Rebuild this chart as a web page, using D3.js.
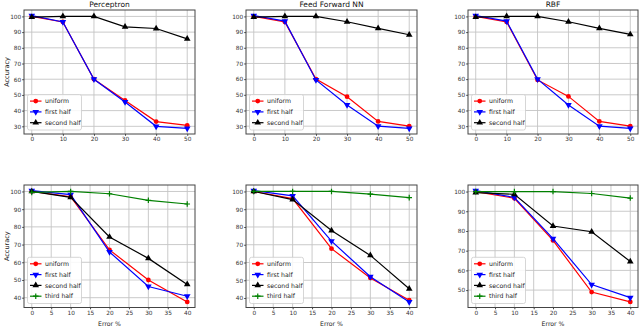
<!DOCTYPE html>
<html>
<head>
<meta charset="utf-8">
<script src="https://cdn.jsdelivr.net/npm/d3@7"></script>
<style>
  body { margin: 0; background: #fff; }
  svg { display: block; font-family: "DejaVu Sans", sans-serif; }
</style>
</head>
<body>
<svg id="chart" width="640" height="328"></svg>
<script>
// error levels on the x axis
const topErr = [0, 10, 20, 30, 40, 50];
const botErr = [0, 10, 20, 30, 40];

// top row
const percUniform = [100, 96.5, 60, 46.5, 33, 30.6];
const percFirst   = [100.5, 96.5, 60, 45.5, 30, 28.7];
const percSecond  = [99.5, 100, 100, 93.3, 92.3, 85.7];
const ffUniform   = [100, 96.5, 60, 48.8, 33, 30];
const ffFirst     = [100.5, 97, 59.5, 43.5, 30, 28.6];
const ffSecond    = [99.5, 100, 100, 96.6, 92.4, 88.3];
const rbfUniform  = [100, 96.5, 59.5, 49, 33, 30];
const rbfFirst    = [100.5, 97, 60, 43.5, 30, 28.6];
const rbfSecond   = [99.5, 100, 100, 96.6, 92.4, 88.5];

// bottom row
const b1Uniform = [100, 97, 67, 50, 37.6];
const b1First   = [100.5, 98.2, 65.8, 46.3, 40.8];
const b1Second  = [100, 96.7, 74.3, 62.2, 47.5];
const b1Third   = [99.5, 100, 98.7, 95, 92.9];
const b2Uniform = [100, 96, 67.8, 51.3, 38.8];
const b2First   = [100.5, 97.5, 72, 52, 37.8];
const b2Second  = [100, 95.4, 78, 64, 45.2];
const b2Third   = [100, 100, 100, 98.5, 96.5];
const b3Uniform = [100, 96.6, 75.2, 49, 44];
const b3First   = [100.5, 97, 76.1, 52.8, 46.2];
const b3Second  = [99.5, 98.6, 82.5, 79.6, 64.5];
const b3Third   = [100, 100, 100, 99, 96.7];

const titles = ["Perceptron", "Feed Forward NN", "RBF"];
const seriesNames = ["uniform", "first half", "second half", "third half"];
const seriesColors = ["#ff0000", "#0000ff", "#000000", "#008000"];
const topXTicks = [0, 10, 20, 30, 40, 50];
const botXTicks = [0, 5, 10, 15, 20, 25, 30, 35, 40];
const yTicks = [30, 40, 50, 60, 70, 80, 90, 100];

const svg = d3.select("#chart");

const cols = [[24, 195], [246, 417], [468, 638]];
const rows = [[10, 134], [185, 307.5]];

const panels = [
  { col: 0, row: 0, xs: topErr, ys: [percUniform, percFirst, percSecond], title: titles[0], xt: topXTicks },
  { col: 1, row: 0, xs: topErr, ys: [ffUniform, ffFirst, ffSecond], title: titles[1], xt: topXTicks },
  { col: 2, row: 0, xs: topErr, ys: [rbfUniform, rbfFirst, rbfSecond], title: titles[2], xt: topXTicks },
  { col: 0, row: 1, xs: botErr, ys: [b1Uniform, b1First, b1Second, b1Third], xt: botXTicks },
  { col: 1, row: 1, xs: botErr, ys: [b2Uniform, b2First, b2Second, b2Third], xt: botXTicks },
  { col: 2, row: 1, xs: botErr, ys: [b3Uniform, b3First, b3Second, b3Third], xt: botXTicks },
];

// matplotlib style 5% margins
function padded(ext) {
  const m = (ext[1] - ext[0]) * 0.05;
  return [ext[0] - m, ext[1] + m];
}

function marker(g, i, cx, cy, color) {
  if (i === 0) {
    g.append("circle").attr("cx", cx).attr("cy", cy).attr("r", 2.4).attr("fill", color);
  } else if (i === 1 || i === 2) {
    g.append("path")
      .attr("d", d3.symbol(d3.symbolTriangle, 19)())
      .attr("transform", `translate(${cx},${cy}) rotate(${i === 1 ? 180 : 0})`)
      .attr("fill", color);
  } else {
    g.append("path")
      .attr("d", "M-2.8,0H2.8M0,-2.8V2.8")
      .attr("transform", `translate(${cx},${cy})`)
      .attr("stroke", color).attr("stroke-width", 1.2).attr("fill", "none");
  }
}

panels.forEach(p => {
  const [xl, xr] = cols[p.col];
  const [yt, yb] = rows[p.row];
  const x = d3.scaleLinear().domain(padded(d3.extent(p.xs))).range([xl, xr]);
  const y = d3.scaleLinear().domain(padded(d3.extent(p.ys.flat()))).range([yb, yt]);
  const yt2 = yTicks.filter(v => v >= y.domain()[0] && v <= y.domain()[1]);
  const g = svg.append("g");

  // grid
  g.selectAll(".gx").data(p.xt).enter().append("line")
    .attr("x1", d => x(d)).attr("x2", d => x(d)).attr("y1", yt).attr("y2", yb)
    .attr("stroke", "#c4c4c4").attr("stroke-width", 0.9);
  g.selectAll(".gy").data(yt2).enter().append("line")
    .attr("x1", xl).attr("x2", xr).attr("y1", d => y(d)).attr("y2", d => y(d))
    .attr("stroke", "#c4c4c4").attr("stroke-width", 0.9);

  // axes
  const ax = g.append("g").attr("transform", `translate(0,${yb})`)
    .call(d3.axisBottom(x).tickValues(p.xt).tickSize(1.8).tickPadding(1.2));
  const ay = g.append("g").attr("transform", `translate(${xl},0)`)
    .call(d3.axisLeft(y).tickValues(yt2).tickSize(1.8).tickPadding(1));
  [ax, ay].forEach(a => {
    a.select(".domain").remove();
    a.selectAll("text").attr("font-size", 5.8).attr("fill", "#333").attr("font-family", "DejaVu Sans");
    a.selectAll("line").attr("stroke", "#444");
  });

  g.append("rect").attr("x", xl).attr("y", yt).attr("width", xr - xl).attr("height", yb - yt)
    .attr("fill", "none").attr("stroke", "#444").attr("stroke-width", 1);

  // series
  p.ys.forEach((vals, i) => {
    const pts = p.xs.map((v, k) => [x(v), y(vals[k])]);
    g.append("path").attr("d", d3.line()(pts))
      .attr("fill", "none").attr("stroke", seriesColors[i]).attr("stroke-width", 1.2);
    pts.forEach(pt => marker(g, i, pt[0], pt[1], seriesColors[i]));
  });

  // legend
  const n = p.ys.length;
  const lh = 10.8;
  const lw = 54;
  const lx = xl + 3.5;
  const lyb = yb - 4;
  const ly = lyb - (n * lh + 3);
  const lg = g.append("g");
  lg.append("rect").attr("x", lx).attr("y", ly).attr("width", lw).attr("height", n * lh + 3)
    .attr("rx", 2).attr("fill", "#fff").attr("fill-opacity", 0.85)
    .attr("stroke", "#ccc").attr("stroke-width", 0.8);
  for (let i = 0; i < n; i++) {
    const cy = ly + 6.5 + i * lh;
    lg.append("line").attr("x1", lx + 2.5).attr("x2", lx + 14).attr("y1", cy).attr("y2", cy)
      .attr("stroke", seriesColors[i]).attr("stroke-width", 1.2);
    marker(lg, i, lx + 8.25, cy, seriesColors[i]);
    lg.append("text").attr("x", lx + 17.5).attr("y", cy + 2.2)
      .attr("font-size", 6.2).attr("fill", "#222").text(seriesNames[i]);
  }

  if (p.title) {
    g.append("text").attr("x", (xl + xr) / 2).attr("y", 7).attr("text-anchor", "middle")
      .attr("font-size", 7.5).attr("fill", "#111").text(p.title);
  }
  if (p.row === 1) {
    g.append("text").attr("x", (xl + xr) / 2).attr("y", 326).attr("text-anchor", "middle")
      .attr("font-size", 6.2).attr("fill", "#222").text("Error %");
  }
  if (p.col === 0) {
    g.append("text").attr("transform", `translate(9,${(yt + yb) / 2}) rotate(-90)`)
      .attr("text-anchor", "middle").attr("font-size", 6.5).attr("fill", "#222").text("Accuracy");
  }
});
</script>
</body>
</html>
